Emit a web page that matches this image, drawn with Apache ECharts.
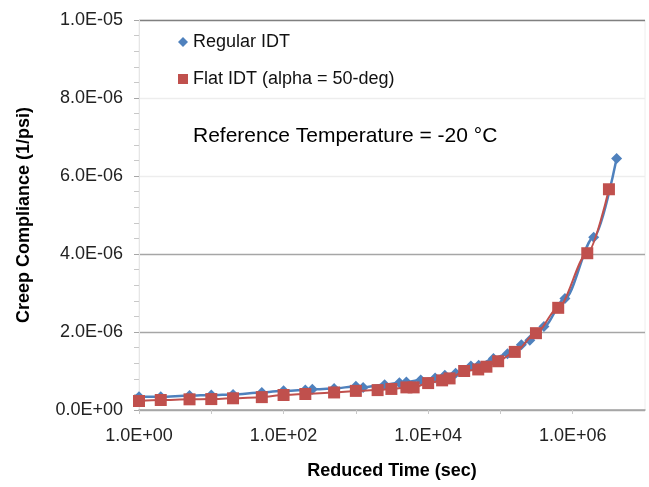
<!DOCTYPE html>
<html>
<head>
    <meta charset="utf-8">
    <title>Creep Compliance</title>
    <script src="https://cdn.jsdelivr.net/npm/echarts@6/dist/echarts.min.js"></script>
    <style>
        html, body { height: 100%; margin: 0; padding: 0; background: #fff; }
    </style>
</head>
<body>
<div id="chart-box" style="width:649px; height:487px;"></div>
<script type="text/javascript">
    // Regular IDT
    const regularTime = [1, 2, 5, 10, 20, 50, 100, 200, 250, 500, 1000, 1260, 2500, 4000, 5000, 7900,
        12500, 17000, 24000, 39000, 50000, 80000, 125000, 195000, 255000, 400000, 780000, 1950000, 4050000];
    const regularComp = [3.4e-7, 3.4e-7, 3.7e-7, 3.85e-7, 4.0e-7, 4.5e-7, 4.95e-7, 5.1e-7, 5.3e-7, 5.5e-7,
        6.1e-7, 5.8e-7, 6.5e-7, 7.0e-7, 7.2e-7, 7.7e-7, 8.2e-7, 8.9e-7, 9.4e-7, 1.13e-6, 1.15e-6,
        1.32e-6, 1.44e-6, 1.67e-6, 1.79e-6, 2.14e-6, 2.86e-6, 4.43e-6, 6.45e-6];

    // Flat IDT (alpha = 50-deg)
    const flatTime = [1, 2, 5, 10, 20, 50, 100, 200, 500, 1000, 2000, 3100, 5000, 6300, 10000, 15600,
        19800, 31500, 49300, 64000, 93000, 158000, 310000, 630000, 1590000, 3170000];
    const flatComp = [2.3e-7, 2.56e-7, 2.74e-7, 2.8e-7, 3.0e-7, 3.3e-7, 3.85e-7, 4.1e-7, 4.5e-7, 4.9e-7,
        5.1e-7, 5.4e-7, 5.8e-7, 5.8e-7, 6.9e-7, 7.6e-7, 8.1e-7, 1.0e-6, 1.04e-6, 1.11e-6, 1.25e-6,
        1.49e-6, 1.97e-6, 2.62e-6, 4.02e-6, 5.66e-6];

    const seriesNames = ["Regular IDT", "Flat IDT (alpha = 50-deg)"];
    const noteText = "Reference Temperature = -20 °C";

    const FONT = "'Liberation Sans', Arial, sans-serif";

    function sci(v) {
        if (v === 0) return "0.0E+00";
        const parts = v.toExponential(1).split("e");
        const n = parseInt(parts[1], 10);
        return parts[0] + "E" + (n < 0 ? "-" : "+") + String(Math.abs(n)).padStart(2, "0");
    }

    const zip = (xs, ys) => xs.map((x, i) => [x, ys[i]]);

    const chart = echarts.init(document.getElementById("chart-box"));
    const option = {
        animation: false,
        textStyle: { fontFamily: FONT },
        title: {
            text: noteText,
            left: 193,
            top: 126,
            padding: 0,
            textStyle: { fontFamily: FONT, fontSize: 21, fontWeight: "normal", color: "#000" }
        },
        legend: {
            orient: "vertical",
            left: 173,
            top: 28,
            itemWidth: 10,
            itemHeight: 10,
            itemGap: 19,
            textStyle: { fontFamily: FONT, fontSize: 18, color: "#111" },
            data: [
                { name: seriesNames[0], icon: "diamond" },
                { name: seriesNames[1], icon: "rect" }
            ]
        },
        grid: {
            left: 139, right: 4, top: 20, bottom: 77,
            show: true, borderColor: "#eeeeee", borderWidth: 1
        },
        xAxis: {
            type: "log",
            logBase: 10,
            min: 1,
            max: 1e7,
            name: "Reduced Time (sec)",
            nameLocation: "middle",
            nameGap: 52,
            nameTextStyle: { fontFamily: FONT, fontSize: 18, fontWeight: "bold", color: "#000" },
            axisLine: { lineStyle: { color: "#a6a6a6", width: 1.5 } },
            axisTick: { show: true, length: 4, lineStyle: { color: "#c8c8c8" } },
            splitLine: { show: false },
            axisLabel: {
                margin: 17,
                fontFamily: FONT,
                fontSize: 18,
                color: "#222",
                showMaxLabel: false,
                formatter: function (v) {
                    const e = Math.round(Math.log10(v));
                    return e % 2 === 0 ? sci(v) : "";
                }
            }
        },
        yAxis: {
            type: "value",
            min: 0,
            max: 1e-5,
            interval: 2e-6,
            name: "Creep Compliance (1/psi)",
            nameLocation: "middle",
            nameGap: 106,
            nameTextStyle: { fontFamily: FONT, fontSize: 18, fontWeight: "bold", color: "#000" },
            axisLine: { show: true, lineStyle: { color: "#e6e6e6" } },
            axisTick: { show: true, length: 5, lineStyle: { color: "#a6a6a6" } },
            minorTick: { show: true, splitNumber: 5, length: 5, lineStyle: { color: "#c8c8c8" } },
            splitLine: {
                show: true,
                lineStyle: {
                    color: ["#a6a6a6", "#a6a6a6", "#a6a6a6", "#ededed", "#ededed", "#808080"],
                    width: 1.3
                }
            },
            axisLabel: {
                margin: 16,
                fontFamily: FONT,
                fontSize: 18,
                color: "#222",
                formatter: sci
            }
        },
        series: [
            {
                name: seriesNames[0],
                type: "line",
                data: zip(regularTime, regularComp),
                symbol: "diamond",
                symbolSize: 11,
                smooth: 0.3,
                smoothMonotone: "x",
                itemStyle: { color: "#4F81BD" },
                lineStyle: { color: "#4F81BD", width: 2.5 },
                z: 2
            },
            {
                name: seriesNames[1],
                type: "line",
                data: zip(flatTime, flatComp),
                symbol: "rect",
                symbolSize: 12,
                smooth: 0.3,
                smoothMonotone: "x",
                itemStyle: { color: "#C0504D" },
                lineStyle: { color: "#C0504D", width: 2 },
                z: 3
            }
        ]
    };
    chart.setOption(option);
</script>
</body>
</html>
